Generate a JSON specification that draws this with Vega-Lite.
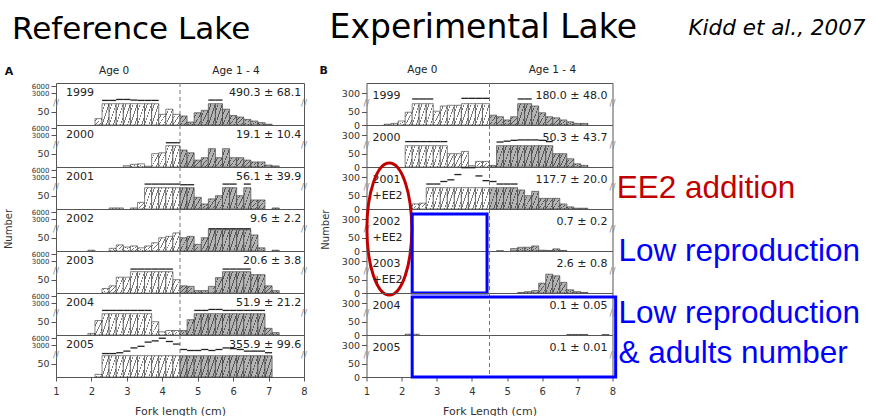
{
"$schema": "https://vega.github.io/schema/vega-lite/v6.json",
"background": "white",
"padding": {"left": 3, "top": 11, "right": 2, "bottom": 0},
"config": {"view": {"stroke": "#555", "strokeWidth": 1}, "font": "DejaVu Sans"},
"spacing": 10.5,
"datasets": {
"A": [
{"year":1999,"lab":"1999","stat":"490.3 ± 68.1"},
{"year":2000,"lab":"2000","stat":"19.1 ± 10.4"},
{"year":2001,"lab":"2001","stat":"56.1 ± 39.9"},
{"year":2002,"lab":"2002","stat":"9.6 ± 2.2"},
{"year":2003,"lab":"2003","stat":"20.6 ± 3.8"},
{"year":2004,"lab":"2004","stat":"51.9 ± 21.2"},
{"year":2005,"lab":"2005","stat":"355.9 ± 99.6"},
{"year":1999,"x":2.1,"n":24},{"year":1999,"x":2.3,"n":530},{"year":1999,"x":2.5,"n":530},{"year":1999,"x":2.7,"n":850},{"year":1999,"x":2.9,"n":850},{"year":1999,"x":3.1,"n":640},{"year":1999,"x":3.3,"n":530},{"year":1999,"x":3.5,"n":530},{"year":1999,"x":3.7,"n":530},{"year":1999,"x":3.9,"n":40},{"year":1999,"x":4.1,"n":61},{"year":1999,"x":4.3,"n":40},{"year":1999,"x":4.5,"n":34},{"year":1999,"x":4.7,"n":11},{"year":1999,"x":4.9,"n":46},{"year":1999,"x":5.1,"n":56},{"year":1999,"x":5.3,"n":640},{"year":1999,"x":5.5,"n":640},{"year":1999,"x":5.7,"n":61},{"year":1999,"x":5.9,"n":36},{"year":1999,"x":6.1,"n":30},{"year":1999,"x":6.3,"n":21},{"year":1999,"x":6.5,"n":15},{"year":1999,"x":6.7,"n":9},{"year":1999,"x":6.9,"n":3},
{"year":2000,"x":2.9,"n":5},{"year":2000,"x":3.1,"n":10},{"year":2000,"x":3.3,"n":12},{"year":2000,"x":3.5,"n":3},{"year":2000,"x":3.7,"n":50},{"year":2000,"x":3.9,"n":54},{"year":2000,"x":4.1,"n":420},{"year":2000,"x":4.3,"n":420},{"year":2000,"x":4.5,"n":66},{"year":2000,"x":4.7,"n":54},{"year":2000,"x":4.9,"n":26},{"year":2000,"x":5.1,"n":35},{"year":2000,"x":5.3,"n":72},{"year":2000,"x":5.5,"n":35},{"year":2000,"x":5.7,"n":72},{"year":2000,"x":5.9,"n":35},{"year":2000,"x":6.1,"n":35},{"year":2000,"x":6.3,"n":26},{"year":2000,"x":6.5,"n":19},{"year":2000,"x":6.7,"n":19},{"year":2000,"x":6.9,"n":7},{"year":2000,"x":7.1,"n":4},
{"year":2001,"x":2.5,"n":4},{"year":2001,"x":2.7,"n":4},{"year":2001,"x":3.1,"n":4},{"year":2001,"x":3.3,"n":25},{"year":2001,"x":3.5,"n":640},{"year":2001,"x":3.7,"n":640},{"year":2001,"x":3.9,"n":640},{"year":2001,"x":4.1,"n":640},{"year":2001,"x":4.3,"n":640},{"year":2001,"x":4.5,"n":420},{"year":2001,"x":4.7,"n":420},{"year":2001,"x":4.9,"n":44},{"year":2001,"x":5.1,"n":19},{"year":2001,"x":5.3,"n":38},{"year":2001,"x":5.5,"n":50},{"year":2001,"x":5.7,"n":640},{"year":2001,"x":5.9,"n":640},{"year":2001,"x":6.1,"n":50},{"year":2001,"x":6.3,"n":640},{"year":2001,"x":6.5,"n":34},{"year":2001,"x":6.7,"n":34},{"year":2001,"x":7.1,"n":4},
{"year":2002,"x":1.9,"n":3},{"year":2002,"x":2.5,"n":10},{"year":2002,"x":2.7,"n":23},{"year":2002,"x":2.9,"n":15},{"year":2002,"x":3.1,"n":19},{"year":2002,"x":3.3,"n":12},{"year":2002,"x":3.5,"n":19},{"year":2002,"x":3.7,"n":31},{"year":2002,"x":3.9,"n":50},{"year":2002,"x":4.1,"n":56},{"year":2002,"x":4.3,"n":71},{"year":2002,"x":4.5,"n":50},{"year":2002,"x":4.7,"n":56},{"year":2002,"x":4.9,"n":25},{"year":2002,"x":5.1,"n":50},{"year":2002,"x":5.3,"n":92},{"year":2002,"x":5.5,"n":92},{"year":2002,"x":5.7,"n":92},{"year":2002,"x":5.9,"n":92},{"year":2002,"x":6.1,"n":92},{"year":2002,"x":6.3,"n":92},{"year":2002,"x":6.5,"n":62},{"year":2002,"x":6.7,"n":12},{"year":2002,"x":7.1,"n":3},
{"year":2003,"x":2.3,"n":17},{"year":2003,"x":2.5,"n":27},{"year":2003,"x":2.7,"n":61},{"year":2003,"x":2.9,"n":61},{"year":2003,"x":3.1,"n":310},{"year":2003,"x":3.3,"n":310},{"year":2003,"x":3.5,"n":310},{"year":2003,"x":3.7,"n":310},{"year":2003,"x":3.9,"n":310},{"year":2003,"x":4.1,"n":310},{"year":2003,"x":4.3,"n":50},{"year":2003,"x":4.5,"n":27},{"year":2003,"x":4.7,"n":25},{"year":2003,"x":4.9,"n":9},{"year":2003,"x":5.1,"n":9},{"year":2003,"x":5.3,"n":25},{"year":2003,"x":5.5,"n":59},{"year":2003,"x":5.7,"n":310},{"year":2003,"x":5.9,"n":310},{"year":2003,"x":6.1,"n":310},{"year":2003,"x":6.3,"n":310},{"year":2003,"x":6.5,"n":72},{"year":2003,"x":6.7,"n":72},{"year":2003,"x":6.9,"n":27},{"year":2003,"x":7.1,"n":9},
{"year":2004,"x":1.9,"n":6},{"year":2004,"x":2.1,"n":55},{"year":2004,"x":2.3,"n":530},{"year":2004,"x":2.5,"n":530},{"year":2004,"x":2.7,"n":530},{"year":2004,"x":2.9,"n":530},{"year":2004,"x":3.1,"n":530},{"year":2004,"x":3.3,"n":530},{"year":2004,"x":3.5,"n":530},{"year":2004,"x":3.7,"n":50},{"year":2004,"x":3.9,"n":12},{"year":2004,"x":4.1,"n":17},{"year":2004,"x":4.3,"n":17},{"year":2004,"x":4.5,"n":17},{"year":2004,"x":4.7,"n":59},{"year":2004,"x":4.9,"n":530},{"year":2004,"x":5.1,"n":530},{"year":2004,"x":5.3,"n":850},{"year":2004,"x":5.5,"n":850},{"year":2004,"x":5.7,"n":530},{"year":2004,"x":5.9,"n":530},{"year":2004,"x":6.1,"n":530},{"year":2004,"x":6.3,"n":530},{"year":2004,"x":6.5,"n":530},{"year":2004,"x":6.7,"n":530},{"year":2004,"x":6.9,"n":25},{"year":2004,"x":7.1,"n":9},
{"year":2005,"x":2.1,"n":10},{"year":2005,"x":2.3,"n":150},{"year":2005,"x":2.5,"n":150},{"year":2005,"x":2.7,"n":420},{"year":2005,"x":2.9,"n":960},{"year":2005,"x":3.1,"n":2030},{"year":2005,"x":3.3,"n":2570},{"year":2005,"x":3.5,"n":4230},{"year":2005,"x":3.7,"n":4770},{"year":2005,"x":3.9,"n":5900},{"year":2005,"x":4.1,"n":4500},{"year":2005,"x":4.3,"n":3400},{"year":2005,"x":4.5,"n":1500},{"year":2005,"x":4.7,"n":1170},{"year":2005,"x":4.9,"n":1170},{"year":2005,"x":5.1,"n":1500},{"year":2005,"x":5.3,"n":1170},{"year":2005,"x":5.5,"n":1500},{"year":2005,"x":5.7,"n":2030},{"year":2005,"x":5.9,"n":1800},{"year":2005,"x":6.1,"n":1500},{"year":2005,"x":6.3,"n":960},{"year":2005,"x":6.5,"n":960},{"year":2005,"x":6.7,"n":960},{"year":2005,"x":6.9,"n":420}
],
"B": [
{"year":1999,"lab":"1999","stat":"180.0 ± 48.0"},
{"year":2000,"lab":"2000","stat":"50.3 ± 43.7"},
{"year":2001,"lab":"2001\n+EE2","stat":"117.7 ± 20.0"},
{"year":2002,"lab":"2002\n+EE2","stat":"0.7 ± 0.2"},
{"year":2003,"lab":"2003\n+EE2","stat":"2.6 ± 0.8"},
{"year":2004,"lab":"2004","stat":"0.1 ± 0.05"},
{"year":2005,"lab":"2005","stat":"0.1 ± 0.01"},
{"year":1999,"x":1.5,"n":3},{"year":1999,"x":1.7,"n":6},{"year":1999,"x":1.9,"n":15},{"year":1999,"x":2.1,"n":48},{"year":1999,"x":2.3,"n":165},{"year":1999,"x":2.5,"n":165},{"year":1999,"x":2.7,"n":165},{"year":1999,"x":2.9,"n":52},{"year":1999,"x":3.1,"n":75},{"year":1999,"x":3.3,"n":78},{"year":1999,"x":3.5,"n":78},{"year":1999,"x":3.7,"n":180},{"year":1999,"x":3.9,"n":180},{"year":1999,"x":4.1,"n":180},{"year":1999,"x":4.3,"n":180},{"year":1999,"x":4.5,"n":37},{"year":1999,"x":4.7,"n":31},{"year":1999,"x":4.9,"n":19},{"year":1999,"x":5.1,"n":31},{"year":1999,"x":5.3,"n":165},{"year":1999,"x":5.5,"n":165},{"year":1999,"x":5.7,"n":75},{"year":1999,"x":5.9,"n":46},{"year":1999,"x":6.1,"n":31},{"year":1999,"x":6.3,"n":27},{"year":1999,"x":6.5,"n":19},{"year":1999,"x":6.7,"n":12},{"year":1999,"x":6.9,"n":6},{"year":1999,"x":7.1,"n":6},
{"year":2000,"x":2.1,"n":150},{"year":2000,"x":2.3,"n":150},{"year":2000,"x":2.5,"n":150},{"year":2000,"x":2.7,"n":150},{"year":2000,"x":2.9,"n":150},{"year":2000,"x":3.1,"n":150},{"year":2000,"x":3.3,"n":50},{"year":2000,"x":3.5,"n":50},{"year":2000,"x":3.7,"n":60},{"year":2000,"x":3.9,"n":5},{"year":2000,"x":4.1,"n":21},{"year":2000,"x":4.3,"n":21},{"year":2000,"x":4.5,"n":6},{"year":2000,"x":4.7,"n":140},{"year":2000,"x":4.9,"n":160},{"year":2000,"x":5.1,"n":180},{"year":2000,"x":5.3,"n":190},{"year":2000,"x":5.5,"n":190},{"year":2000,"x":5.7,"n":190},{"year":2000,"x":5.9,"n":180},{"year":2000,"x":6.1,"n":150},{"year":2000,"x":6.3,"n":50},{"year":2000,"x":6.5,"n":50},{"year":2000,"x":6.7,"n":31},{"year":2000,"x":6.9,"n":12},{"year":2000,"x":7.1,"n":6},
{"year":2001,"x":2.3,"n":19},{"year":2001,"x":2.5,"n":22},{"year":2001,"x":2.7,"n":140},{"year":2001,"x":2.9,"n":140},{"year":2001,"x":3.1,"n":200},{"year":2001,"x":3.3,"n":240},{"year":2001,"x":3.5,"n":380},{"year":2001,"x":3.7,"n":580},{"year":2001,"x":3.9,"n":580},{"year":2001,"x":4.1,"n":340},{"year":2001,"x":4.3,"n":220},{"year":2001,"x":4.5,"n":200},{"year":2001,"x":4.7,"n":140},{"year":2001,"x":4.9,"n":140},{"year":2001,"x":5.1,"n":140},{"year":2001,"x":5.3,"n":75},{"year":2001,"x":5.5,"n":50},{"year":2001,"x":5.7,"n":69},{"year":2001,"x":5.9,"n":40},{"year":2001,"x":6.1,"n":40},{"year":2001,"x":6.3,"n":40},{"year":2001,"x":6.5,"n":19},{"year":2001,"x":6.7,"n":8},{"year":2001,"x":6.9,"n":3},{"year":2001,"x":7.1,"n":3},
{"year":2002,"x":4.7,"n":1},{"year":2002,"x":5.1,"n":9},{"year":2002,"x":5.3,"n":14},{"year":2002,"x":5.5,"n":14},{"year":2002,"x":5.7,"n":19},{"year":2002,"x":5.9,"n":3},{"year":2002,"x":6.1,"n":2},{"year":2002,"x":6.3,"n":8},{"year":2002,"x":6.5,"n":2},
{"year":2003,"x":5.3,"n":2},{"year":2003,"x":5.5,"n":5},{"year":2003,"x":5.7,"n":9},{"year":2003,"x":5.9,"n":37},{"year":2003,"x":6.1,"n":74},{"year":2003,"x":6.3,"n":67},{"year":2003,"x":6.5,"n":40},{"year":2003,"x":6.7,"n":12},{"year":2003,"x":6.9,"n":5},{"year":2003,"x":7.1,"n":2},
{"year":2004,"x":2.1,"n":3},{"year":2004,"x":2.3,"n":3},{"year":2004,"x":6.7,"n":2},{"year":2004,"x":6.9,"n":2},{"year":2004,"x":7.1,"n":2},{"year":2004,"x":7.7,"n":2},
{"year":2005,"x":2.9,"n":1},{"year":2005,"x":3.3,"n":1},{"year":2005,"x":4.9,"n":1}
]
},
"hconcat": [
{
"data": {"name": "A"},
"transform": [{"calculate": "datum.x + 0.2", "as": "x2"}, {"calculate": "min(datum.n, 85)", "as": "bar"}],
"facet": {"row": {"field": "year", "type": "ordinal", "header": null}},
"spacing": 0,
"bounds": "flush",
"spec": {
"width": 248, "height": 42,
"layer": [
{"transform": [{"filter": "isValid(datum.n) && datum.x < 4.5"}],
 "mark": {"type": "rect", "stroke": "#333", "strokeWidth": 0.6, "fill": {"gradient": "linear", "x1": 0, "y1": 0, "x2": 1, "y2": 1, "stops": [{"offset": 0, "color": "#ffffff"}, {"offset": 0.17, "color": "#ffffff"}, {"offset": 0.17, "color": "#777777"}, {"offset": 0.23, "color": "#777777"}, {"offset": 0.23, "color": "#ffffff"}, {"offset": 0.47, "color": "#ffffff"}, {"offset": 0.47, "color": "#777777"}, {"offset": 0.53, "color": "#777777"}, {"offset": 0.53, "color": "#ffffff"}, {"offset": 0.77, "color": "#ffffff"}, {"offset": 0.77, "color": "#777777"}, {"offset": 0.83, "color": "#777777"}, {"offset": 0.83, "color": "#ffffff"}, {"offset": 1, "color": "#ffffff"}]}},
 "encoding": {
  "x": {"field": "x", "type": "quantitative", "scale": {"domain": [1, 8], "nice": false, "zero": false},
        "axis": {"values": [1,2,3,4,5,6,7,8], "tickCount": 20, "format": "d", "title": "Fork length (cm)", "grid": false, "domain": false, "tickSize": 4, "tickColor": "#555", "labelFontSize": 10, "labelColor": "#333", "labelPadding": 5, "labelFlush": false, "labelOverlap": false, "titleFontSize": 11, "titleFontWeight": "normal", "titleColor": "#333", "titlePadding": 9}},
  "x2": {"field": "x2"},
  "y": {"field": "bar", "type": "quantitative", "scale": {"domain": [0, 50, 85, 100, 3000, 6000], "range": [42, 28.7, 20.7, 18.7, 10, 3], "nice": false, "zero": false},
        "axis": {"values": [50, 3000, 6000], "tickCount": 20, "format": "d", "title": null, "grid": false, "domain": false, "tickSize": 5, "tickColor": "#555", "labelPadding": 2, "labelOverlap": false, "labelFontSize": {"condition": {"test": "datum.value >= 3000", "value": 7}, "value": 9.5}, "labelColor": "#333"}},
  "y2": {"datum": 0}
 }},
{"transform": [{"filter": "isValid(datum.n) && datum.x >= 4.5"}],
 "mark": {"type": "rect", "stroke": "#333", "strokeWidth": 0.6, "fill": {"gradient": "linear", "x1": 0, "y1": 0, "x2": 1, "y2": 1, "stops": [{"offset": 0, "color": "#b4b4b4"}, {"offset": 0.17, "color": "#b4b4b4"}, {"offset": 0.17, "color": "#555555"}, {"offset": 0.23, "color": "#555555"}, {"offset": 0.23, "color": "#b4b4b4"}, {"offset": 0.47, "color": "#b4b4b4"}, {"offset": 0.47, "color": "#555555"}, {"offset": 0.53, "color": "#555555"}, {"offset": 0.53, "color": "#b4b4b4"}, {"offset": 0.77, "color": "#b4b4b4"}, {"offset": 0.77, "color": "#555555"}, {"offset": 0.83, "color": "#555555"}, {"offset": 0.83, "color": "#b4b4b4"}, {"offset": 1, "color": "#b4b4b4"}]}},
 "encoding": {"x": {"field": "x", "type": "quantitative"}, "x2": {"field": "x2"}, "y": {"field": "bar", "type": "quantitative"}, "y2": {"datum": 0}}},
{"transform": [{"filter": "datum.n > 85"}],
 "mark": {"type": "rule", "color": "#222", "strokeWidth": 1.3},
 "encoding": {"x": {"field": "x", "type": "quantitative"}, "x2": {"field": "x2"}, "y": {"field": "n", "type": "quantitative"}}},
{"transform": [{"filter": "isValid(datum.lab)"}],
 "mark": {"type": "rule", "color": "#777", "strokeDash": [4, 3], "strokeWidth": 1},
 "encoding": {"x": {"datum": 4.5}}},
{"transform": [{"filter": "isValid(datum.lab)"}],
 "mark": {"type": "text", "align": "left", "baseline": "middle", "fontSize": 11, "color": "#222"},
 "encoding": {"x": {"datum": 1.28}, "y": {"datum": 3000}, "text": {"field": "lab"}}},
{"transform": [{"filter": "isValid(datum.lab)"}],
 "mark": {"type": "text", "align": "right", "baseline": "middle", "fontSize": 11, "color": "#222"},
 "encoding": {"x": {"datum": 7.92}, "y": {"datum": 3000}, "text": {"field": "stat"}}},
{"transform": [{"filter": "isValid(datum.lab)"}],
 "mark": {"type": "text", "align": "center", "baseline": "middle", "fontSize": 9, "color": "#888", "text": "//"},
 "encoding": {"x": {"datum": 1}, "y": {"datum": 90}}},
{"transform": [{"filter": "isValid(datum.lab)"}],
 "mark": {"type": "text", "align": "center", "baseline": "middle", "fontSize": 9, "color": "#888", "text": "//"},
 "encoding": {"x": {"datum": 8}, "y": {"datum": 90}}},
{"transform": [{"filter": "datum.year == 2002 && isValid(datum.lab)"}],
 "mark": {"type": "text", "align": "center", "baseline": "middle", "fontSize": 10, "angle": 270, "color": "#333", "text": "Number"},
 "encoding": {"x": {"datum": -0.33}, "y": {"datum": 90}}},
{"transform": [{"filter": "datum.year == 1999 && isValid(datum.lab)"}],
 "mark": {"type": "text", "align": "center", "baseline": "middle", "fontSize": 10.5, "color": "#222", "dy": -15, "text": "Age 0"},
 "encoding": {"x": {"datum": 2.64}, "y": {"datum": 6000}}},
{"transform": [{"filter": "datum.year == 1999 && isValid(datum.lab)"}],
 "mark": {"type": "text", "align": "center", "baseline": "middle", "fontSize": 10.5, "color": "#222", "dy": -15, "text": "Age 1 - 4"},
 "encoding": {"x": {"datum": 6.08}, "y": {"datum": 6000}}},
{"transform": [{"filter": "datum.year == 1999 && isValid(datum.lab)"}],
 "mark": {"type": "text", "align": "left", "baseline": "middle", "fontSize": 11, "fontWeight": "bold", "color": "#111", "dy": -14, "text": "A"},
 "encoding": {"x": {"datum": -0.45}, "y": {"datum": 6000}}},
{"transform": [{"filter": "datum.year == 1999 && isValid(datum.lab)"}],
 "mark": {"type": "text", "align": "left", "baseline": "alphabetic", "fontSize": 31, "color": "#000", "dy": -47, "text": "Reference Lake"},
 "encoding": {"x": {"datum": -0.24}, "y": {"datum": 6000}}}
]
}
},
{
"data": {"name": "B"},
"transform": [{"calculate": "datum.x + 0.2", "as": "x2"}, {"calculate": "min(datum.n, 85)", "as": "bar"}],
"facet": {"row": {"field": "year", "type": "ordinal", "header": null}},
"spacing": 0,
"bounds": "flush",
"spec": {
"width": 246, "height": 42,
"layer": [
{"transform": [{"filter": "isValid(datum.n) && datum.x < 4.5"}],
 "mark": {"type": "rect", "stroke": "#333", "strokeWidth": 0.6, "fill": {"gradient": "linear", "x1": 0, "y1": 0, "x2": 1, "y2": 1, "stops": [{"offset": 0, "color": "#ffffff"}, {"offset": 0.17, "color": "#ffffff"}, {"offset": 0.17, "color": "#777777"}, {"offset": 0.23, "color": "#777777"}, {"offset": 0.23, "color": "#ffffff"}, {"offset": 0.47, "color": "#ffffff"}, {"offset": 0.47, "color": "#777777"}, {"offset": 0.53, "color": "#777777"}, {"offset": 0.53, "color": "#ffffff"}, {"offset": 0.77, "color": "#ffffff"}, {"offset": 0.77, "color": "#777777"}, {"offset": 0.83, "color": "#777777"}, {"offset": 0.83, "color": "#ffffff"}, {"offset": 1, "color": "#ffffff"}]}},
 "encoding": {
  "x": {"field": "x", "type": "quantitative", "scale": {"domain": [1, 8], "nice": false, "zero": false},
        "axis": {"values": [1,2,3,4,5,6,7,8], "tickCount": 20, "format": "d", "title": "Fork Length (cm)", "grid": false, "domain": false, "tickSize": 4, "tickColor": "#555", "labelFontSize": 10, "labelColor": "#333", "labelPadding": 5, "labelFlush": false, "labelOverlap": false, "titleFontSize": 11, "titleFontWeight": "normal", "titleColor": "#333", "titlePadding": 9}},
  "x2": {"field": "x2"},
  "y": {"field": "bar", "type": "quantitative", "scale": {"domain": [0, 50, 85, 100, 300, 600], "range": [42, 28.7, 20.7, 18.7, 10.3, 0], "nice": false, "zero": false},
        "axis": {"values": [0, 50, 300], "tickCount": 20, "format": "d", "title": null, "grid": false, "domain": false, "tickSize": 5, "tickColor": "#555", "labelPadding": 2, "labelOverlap": false, "labelFontSize": 9.5, "labelColor": "#333"}},
  "y2": {"datum": 0}
 }},
{"transform": [{"filter": "isValid(datum.n) && datum.x >= 4.5"}],
 "mark": {"type": "rect", "stroke": "#333", "strokeWidth": 0.6, "fill": {"gradient": "linear", "x1": 0, "y1": 0, "x2": 1, "y2": 1, "stops": [{"offset": 0, "color": "#b4b4b4"}, {"offset": 0.17, "color": "#b4b4b4"}, {"offset": 0.17, "color": "#555555"}, {"offset": 0.23, "color": "#555555"}, {"offset": 0.23, "color": "#b4b4b4"}, {"offset": 0.47, "color": "#b4b4b4"}, {"offset": 0.47, "color": "#555555"}, {"offset": 0.53, "color": "#555555"}, {"offset": 0.53, "color": "#b4b4b4"}, {"offset": 0.77, "color": "#b4b4b4"}, {"offset": 0.77, "color": "#555555"}, {"offset": 0.83, "color": "#555555"}, {"offset": 0.83, "color": "#b4b4b4"}, {"offset": 1, "color": "#b4b4b4"}]}},
 "encoding": {"x": {"field": "x", "type": "quantitative"}, "x2": {"field": "x2"}, "y": {"field": "bar", "type": "quantitative"}, "y2": {"datum": 0}}},
{"transform": [{"filter": "datum.n > 85"}],
 "mark": {"type": "rule", "color": "#222", "strokeWidth": 1.3},
 "encoding": {"x": {"field": "x", "type": "quantitative"}, "x2": {"field": "x2"}, "y": {"field": "n", "type": "quantitative"}}},
{"transform": [{"filter": "isValid(datum.lab)"}],
 "mark": {"type": "rule", "color": "#777", "strokeDash": [4, 3], "strokeWidth": 1},
 "encoding": {"x": {"datum": 4.5}}},
{"transform": [{"filter": "isValid(datum.lab)"}],
 "mark": {"type": "text", "align": "left", "baseline": "top", "fontSize": 11, "lineHeight": 16, "lineBreak": "\n", "color": "#222"},
 "encoding": {"x": {"datum": 1.17}, "y": {"datum": 410}, "text": {"field": "lab"}}},
{"transform": [{"filter": "isValid(datum.lab)"}],
 "mark": {"type": "text", "align": "right", "baseline": "middle", "fontSize": 11, "color": "#222"},
 "encoding": {"x": {"datum": 7.86}, "y": {"datum": 236}, "text": {"field": "stat"}}},
{"transform": [{"filter": "isValid(datum.lab)"}],
 "mark": {"type": "text", "align": "center", "baseline": "middle", "fontSize": 9, "color": "#888", "text": "//"},
 "encoding": {"x": {"datum": 1}, "y": {"datum": 90}}},
{"transform": [{"filter": "isValid(datum.lab)"}],
 "mark": {"type": "text", "align": "center", "baseline": "middle", "fontSize": 9, "color": "#888", "text": "//"},
 "encoding": {"x": {"datum": 8}, "y": {"datum": 90}}},
{"transform": [{"filter": "datum.year == 2002 && isValid(datum.lab)"}],
 "mark": {"type": "text", "align": "center", "baseline": "middle", "fontSize": 10, "angle": 270, "color": "#333", "text": "Number"},
 "encoding": {"x": {"datum": -0.14}, "y": {"datum": 85}}},
{"transform": [{"filter": "datum.year == 1999 && isValid(datum.lab)"}],
 "mark": {"type": "text", "align": "center", "baseline": "middle", "fontSize": 10.5, "color": "#222", "dy": -13, "text": "Age 0"},
 "encoding": {"x": {"datum": 2.59}, "y": {"datum": 600}}},
{"transform": [{"filter": "datum.year == 1999 && isValid(datum.lab)"}],
 "mark": {"type": "text", "align": "center", "baseline": "middle", "fontSize": 10.5, "color": "#222", "dy": -13, "text": "Age 1 - 4"},
 "encoding": {"x": {"datum": 6.29}, "y": {"datum": 600}}},
{"transform": [{"filter": "datum.year == 1999 && isValid(datum.lab)"}],
 "mark": {"type": "text", "align": "left", "baseline": "middle", "fontSize": 11, "fontWeight": "bold", "color": "#111", "dy": -12, "text": "B"},
 "encoding": {"x": {"datum": -0.34}, "y": {"datum": 600}}},
{"transform": [{"filter": "datum.year == 1999 && isValid(datum.lab)"}],
 "mark": {"type": "text", "align": "left", "baseline": "alphabetic", "fontSize": 33, "color": "#000", "dy": -45, "text": "Experimental Lake"},
 "encoding": {"x": {"datum": -0.05}, "y": {"datum": 600}}},
{"transform": [{"filter": "datum.year == 1999 && isValid(datum.lab)"}],
 "mark": {"type": "text", "align": "right", "baseline": "alphabetic", "fontSize": 21.5, "fontStyle": "italic", "color": "#000", "dy": -48, "text": "Kidd et al., 2007"},
 "encoding": {"x": {"datum": 15.2}, "y": {"datum": 600}}},
{"transform": [{"filter": "datum.year == 2001 && isValid(datum.lab)"}],
 "mark": {"type": "text", "align": "left", "baseline": "alphabetic", "fontSize": 31.5, "font": "Liberation Sans", "color": "#c00000", "text": "EE2 addition"},
 "encoding": {"x": {"datum": 8.12}, "y": {"datum": 41}}},
{"transform": [{"filter": "datum.year == 2003 && isValid(datum.lab)"}],
 "mark": {"type": "text", "align": "left", "baseline": "alphabetic", "fontSize": 31.5, "font": "Liberation Sans", "color": "#0000ff", "text": "Low reproduction"},
 "encoding": {"x": {"datum": 8.17}, "y": {"datum": 309}}},
{"transform": [{"filter": "datum.year == 2004 && isValid(datum.lab)"}],
 "mark": {"type": "text", "align": "left", "baseline": "alphabetic", "fontSize": 31.5, "font": "Liberation Sans", "color": "#0000ff", "lineHeight": 40, "lineBreak": "|", "text": "Low reproduction|& adults number"},
 "encoding": {"x": {"datum": 8.17}, "y": {"datum": 45}}},
{"transform": [{"filter": "datum.year == 2002 && isValid(datum.lab)"}],
 "mark": {"type": "point", "shape": "M0,-1C0.188,-1,0.34,-0.552,0.34,0C0.34,0.552,0.188,1,0,1C-0.188,1,-0.34,0.552,-0.34,0C-0.34,-0.552,-0.188,-1,0,-1Z", "size": 17424, "filled": false, "color": "#c00000", "strokeWidth": 3, "opacity": 1},
 "encoding": {"x": {"datum": 1.65}, "y": {"datum": 90}}},
{"transform": [{"filter": "datum.year == 2003 && isValid(datum.lab)"}],
 "mark": {"type": "rect", "filled": false, "color": "#0000ff", "strokeWidth": 3},
 "encoding": {"x": {"datum": 2.3}, "x2": {"datum": 4.43}, "y": {"datum": 0}, "y2": {"datum": 1680}}},
{"transform": [{"filter": "datum.year == 2005 && isValid(datum.lab)"}],
 "mark": {"type": "rect", "filled": false, "color": "#0000ff", "strokeWidth": 3},
 "encoding": {"x": {"datum": 2.3}, "x2": {"datum": 8.09}, "y": {"datum": 0}, "y2": {"datum": 1705}}}
]
}
}
]
}
